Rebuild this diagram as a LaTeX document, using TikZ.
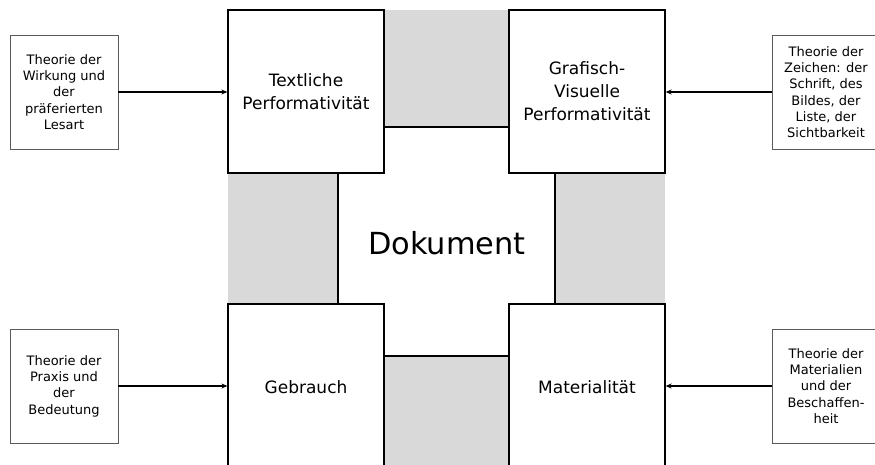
\documentclass[tikz,border=0pt]{standalone}
\usepackage{fontspec}
\setmainfont{DejaVu Sans}
\usetikzlibrary{arrows.meta}
\definecolor{feld}{HTML}{D9D9D9}
\definecolor{rahmen}{HTML}{5A5A5A}
\tikzset{
  aspekt/.style={draw=black, line width=1.3pt, fill=white, align=center,
    minimum width=156pt, minimum height=163pt, inner sep=0pt,
    font=\fontsize{17}{23}\selectfont},
  theorie/.style={draw=rahmen, line width=0.9pt, fill=white, align=center,
    minimum width=108pt, minimum height=114pt, inner sep=0pt,
    font=\fontsize{13}{16.3}\selectfont},
  pfeil/.style={line width=1.3pt, -{Stealth[length=6pt,width=5pt]}}
}
\begin{document}
\begin{tikzpicture}[x=1pt, y=-1pt]
  \useasboundingbox (0,0) rectangle (875,464);
  \clip (0,0) rectangle (875,464);
  % grauer Grund und weisses Kreuz
  \fill[feld] (228,10) rectangle (665,475);
  \draw[line width=1.3pt, fill=white] (384,127) -- (509,127) -- (509,173) -- (555,173)
    -- (555,304) -- (509,304) -- (509,356) -- (384,356) -- (384,304) -- (338,304)
    -- (338,173) -- (384,173) -- cycle;
  \node[font=\fontsize{30.4}{36}\selectfont] (dok) at (447,243) {Dokument};

  % vier Aspekte
  \node[aspekt] (text) at (306,91.5) {Textliche\\Performativität};
  \node[aspekt] (grafik) at (587,91.5) {Grafisch-\\Visuelle\\Performativität};
  \node[aspekt, minimum height=166pt] (gebrauch) at (306,387) {Gebrauch};
  \node[aspekt, minimum height=166pt] (material) at (587,387) {Materialität};

  % Theorien
  \node[theorie] (thwirkung) at (64,92) {Theorie der\\Wirkung und\\der\\präferierten\\Lesart};
  \node[theorie] (thzeichen) at (826,92) {Theorie der\\Zeichen: der\\Schrift, des\\Bildes, der\\Liste, der\\Sichtbarkeit};
  \node[theorie] (thpraxis) at (64,386) {Theorie der\\Praxis und\\der\\Bedeutung};
  \node[theorie] (thmaterial) at (826,386) {Theorie der\\Materialien\\und der\\Beschaffen-\\heit};

  \draw[pfeil] (thwirkung.east) -- (thwirkung.east -| text.west);
  \draw[pfeil] (thzeichen.west) -- (thzeichen.west -| grafik.east);
  \draw[pfeil] (thpraxis.east) -- (thpraxis.east -| gebrauch.west);
  \draw[pfeil] (thmaterial.west) -- (thmaterial.west -| material.east);
\end{tikzpicture}
\end{document}
